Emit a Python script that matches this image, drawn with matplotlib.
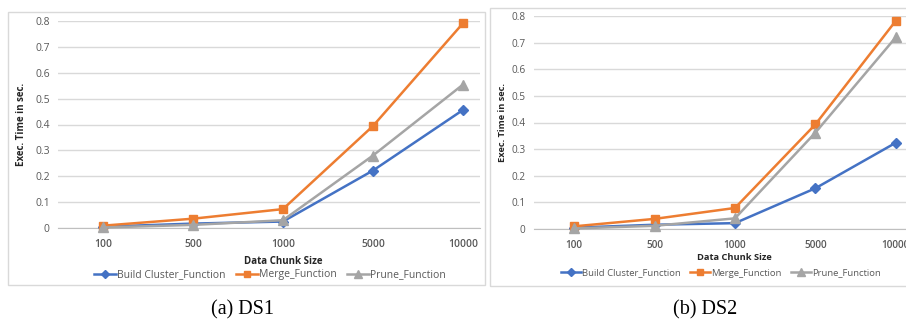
""" Execution time per data chunk size for DS1 and DS2 (Excel style line charts) """
import matplotlib
matplotlib.use('Agg')
import matplotlib.pyplot as plt
from matplotlib.patches import Rectangle
from matplotlib.lines import Line2D

plt.rcParams['font.family'] = ['Open Sans', 'DejaVu Sans']

chunk_sizes = ['100', '500', '1000', '5000', '10000']
series_names = ['Build Cluster_Function', 'Merge_Function', 'Prune_Function']

# DS1 values (sec.)
ds1_build = [0.005, 0.017, 0.025, 0.222, 0.456]
ds1_merge = [0.009, 0.036, 0.073, 0.394, 0.791]
ds1_prune = [0.002, 0.012, 0.030, 0.280, 0.554]

# DS2 values (sec.)
ds2_build = [0.005, 0.016, 0.022, 0.153, 0.324]
ds2_merge = [0.010, 0.038, 0.079, 0.393, 0.782]
ds2_prune = [0.002, 0.012, 0.040, 0.362, 0.720]

y_ticks = [0, 0.1, 0.2, 0.3, 0.4, 0.5, 0.6, 0.7, 0.8]

colors = ['#4472C4', '#ED7D31', '#A5A5A5']
markers = ['D', 's', '^']
msizes = [5.5, 6, 7]
text_col = '#595959'
grid_col = '#D9D9D9'

W, H = 906, 320
fig = plt.figure(figsize=(W / 100, H / 100), dpi=100)


def fx(px):
    return px / W


def fy(py):
    return 1 - py / H


def draw_panel(ax, values, xlim, fs_tick, fs_leg, ylab_x, xlab_xy, leg_xy, caption, cap_x):
    x = list(range(len(chunk_sizes)))
    for vals, c, m, ms in zip(values, colors, markers, msizes):
        ax.plot(x, vals, color=c, lw=1.8, marker=m, markersize=ms,
                markeredgecolor=c, zorder=3, clip_on=False)
    ax.set_xlim(*xlim)
    ax.set_ylim(0, 0.8)
    ax.set_yticks(y_ticks)
    ax.set_yticklabels(['0' if t == 0 else '%.1f' % t for t in y_ticks])
    ax.set_xticks(x)
    ax.set_xticklabels(chunk_sizes, fontweight='semibold')
    ax.tick_params(axis='both', length=0, colors=text_col, labelsize=fs_tick)
    ax.tick_params(axis='x', pad=8)
    ax.tick_params(axis='y', pad=6)
    ax.grid(axis='y', color=grid_col, lw=1)
    ax.set_axisbelow(True)
    for s in ['top', 'right', 'left']:
        ax.spines[s].set_visible(False)
    ax.spines['bottom'].set_color('#BFBFBF')
    ax.spines['bottom'].set_zorder(2)

    fig.text(fx(ylab_x), ax.get_position().y0 + ax.get_position().height / 2,
             'Exec. Time in sec.', rotation=90, ha='center', va='center',
             fontsize=fs_tick - 0.5, fontweight='bold', color='#262626')
    fig.text(fx(xlab_xy[0]), fy(xlab_xy[1]), 'Data Chunk Size', ha='center',
             va='center', fontsize=fs_tick - 0.5, fontweight='bold', color='#262626')

    handles = [Line2D([], [], color=c, lw=1.8, marker=m, markersize=ms - 1)
               for c, m, ms in zip(colors, markers, msizes)]
    fig.legend(handles, series_names, loc='center', ncol=3,
               bbox_to_anchor=(fx(leg_xy[0]), fy(leg_xy[1])), frameon=False,
               fontsize=fs_leg, labelcolor=text_col, handlelength=2.1,
               handletextpad=0.1, columnspacing=1.0, borderpad=0)
    fig.text(fx(cap_x), fy(310), caption, ha='center', va='center',
             fontsize=14.5, family='Liberation Serif', color='black')


# chart borders
fig.add_artist(Rectangle((fx(8), fy(285)), fx(477), 273 / H, transform=fig.transFigure,
                         fill=False, edgecolor=grid_col, lw=1))
fig.add_artist(Rectangle((fx(490), fy(286)), fx(430), 278 / H, transform=fig.transFigure,
                         fill=False, edgecolor=grid_col, lw=1))

ax1 = fig.add_axes([fx(58), fy(228), fx(422), 207 / H])
draw_panel(ax1, [ds1_build, ds1_merge, ds1_prune], (-0.5, 4.19), 7.5, 7.5,
           22, (283, 262), (270, 275), '(a) DS1', 243)

ax2 = fig.add_axes([fx(534), fy(229), fx(402), 213 / H])
draw_panel(ax2, [ds2_build, ds2_merge, ds2_prune], (-0.5, 4.5), 7.2, 6.8,
           503, (734, 258), (721, 273), '(b) DS2', 705)

fig.savefig('out.png', dpi=100)
